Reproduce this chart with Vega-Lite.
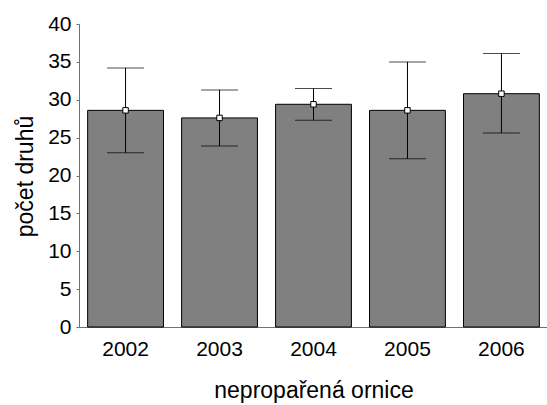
{
  "$schema": "https://vega.github.io/schema/vega-lite/v6.json",
  "width": 469,
  "height": 303,
  "autosize": {"type": "none"},
  "padding": {"left": 79, "top": 24, "right": 0, "bottom": 78},
  "background": "white",
  "config": {
    "view": {"stroke": null},
    "font": "Liberation Sans",
    "axis": {"grid": false, "domainColor": "#707070", "tickColor": "#707070", "labelColor": "#000000", "titleColor": "#000000", "labelFont": "Liberation Sans", "titleFont": "Liberation Sans", "titleFontWeight": "normal"},
    "axisY": {"labelOverlap": false, "labelFlush": false, "tickSize": 3, "labelPadding": 5, "labelFontSize": 21, "titleFontSize": 23, "titleBaseline": "alphabetic", "titleX": -47, "titleY": 152}
  },
  "data": {
    "values": [
      {"rok": "2002", "prumer": 28.6, "dolni": 23.0, "horni": 34.2},
      {"rok": "2003", "prumer": 27.6, "dolni": 23.9, "horni": 31.3},
      {"rok": "2004", "prumer": 29.4, "dolni": 27.3, "horni": 31.5},
      {"rok": "2005", "prumer": 28.6, "dolni": 22.2, "horni": 35.0},
      {"rok": "2006", "prumer": 30.8, "dolni": 25.6, "horni": 36.1}
    ]
  },
  "encoding": {
    "x": {
      "field": "rok",
      "type": "nominal",
      "sort": null,
      "scale": {"paddingInner": 0.193, "paddingOuter": 0.092},
      "axis": {
        "title": "nepropařená ornice",
        "labelAngle": 0,
        "labelFontSize": 21,
        "labelPadding": 11,
        "ticks": false,
        "tickSize": 0,
        "titleFontSize": 23,
        "titleBaseline": "alphabetic",
        "titleY": 70
      }
    }
  },
  "layer": [
    {
      "mark": {"type": "bar", "color": "#808080", "stroke": "#000000", "strokeWidth": 1},
      "encoding": {
        "y": {
          "field": "prumer",
          "type": "quantitative",
          "scale": {"domain": [0, 40], "nice": false, "zero": true},
          "axis": {"title": "počet druhů", "values": [0, 5, 10, 15, 20, 25, 30, 35, 40], "labelOverlap": false}
        }
      }
    },
    {
      "mark": {"type": "rule", "color": "#000000", "strokeWidth": 1},
      "encoding": {
        "y": {"field": "dolni", "type": "quantitative", "axis": {"title": "počet druhů", "values": [0, 5, 10, 15, 20, 25, 30, 35, 40], "labelOverlap": false}},
        "y2": {"field": "horni"}
      }
    },
    {
      "mark": {"type": "tick", "color": "#000000", "size": 37, "thickness": 1},
      "encoding": {"y": {"field": "dolni", "type": "quantitative", "axis": {"title": "počet druhů", "values": [0, 5, 10, 15, 20, 25, 30, 35, 40], "labelOverlap": false}}}
    },
    {
      "mark": {"type": "tick", "color": "#000000", "size": 37, "thickness": 1},
      "encoding": {"y": {"field": "horni", "type": "quantitative", "axis": {"title": "počet druhů", "values": [0, 5, 10, 15, 20, 25, 30, 35, 40], "labelOverlap": false}}}
    },
    {
      "mark": {"type": "square", "filled": true, "fill": "#ffffff", "stroke": "#000000", "strokeWidth": 1, "size": 30, "opacity": 1},
      "encoding": {"y": {"field": "prumer", "type": "quantitative", "axis": {"title": "počet druhů", "values": [0, 5, 10, 15, 20, 25, 30, 35, 40], "labelOverlap": false}}}
    }
  ]
}
